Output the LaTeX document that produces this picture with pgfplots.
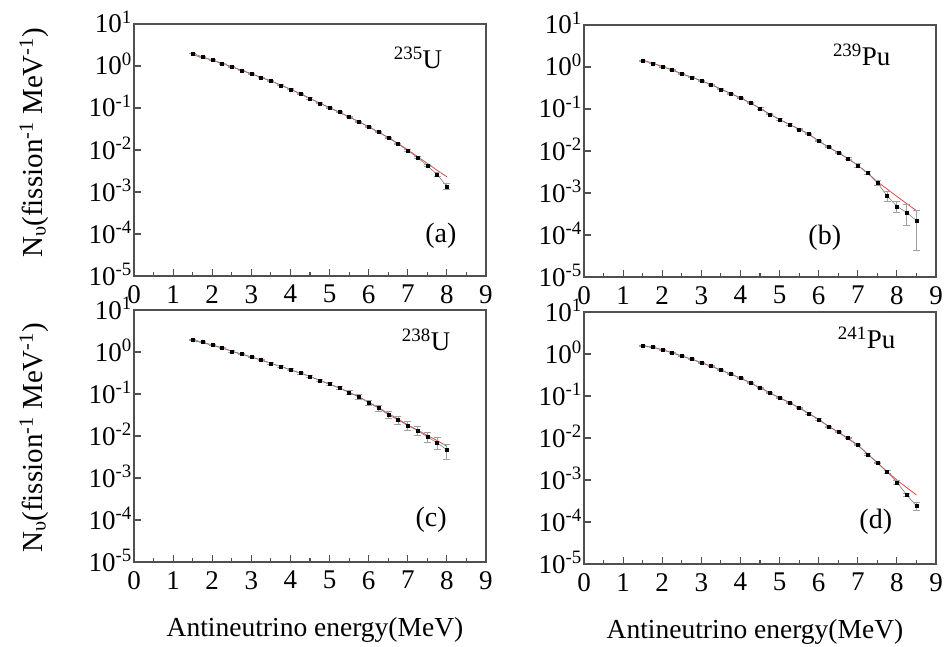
\documentclass[border=0pt]{standalone}
\usepackage{fontspec}
\setmainfont{Liberation Serif}
\usepackage{pgfplots}
\usepackage{pgfplotstable}
\pgfplotsset{compat=1.18}

\pgfplotstableread{
x y ey
1.5 2.0 0.05
1.75 1.66 0.04
2.0 1.39 0.035
2.25 1.15 0.03
2.5 0.96 0.025
2.75 0.785 0.02
3.0 0.655 0.017
3.25 0.535 0.014
3.5 0.44 0.011
3.75 0.35 0.009
4.0 0.28 0.007
4.25 0.218 0.006
4.5 0.169 0.005
4.75 0.13 0.004
5.0 0.103 0.003
5.25 0.080 0.0025
5.5 0.0617 0.002
5.75 0.0477 0.0015
6.0 0.0356 0.0012
6.25 0.027 0.0009
6.5 0.0198 0.0007
6.75 0.014 0.0005
7.0 0.0097 0.0004
7.25 0.0066 0.0003
7.5 0.00426 0.00025
7.75 0.0026 0.00025
8.0 0.00137 0.0002
}\dataA
\pgfplotstableread{
x y
1.5 1.85
1.75 1.6
2.0 1.37
2.25 1.15
2.5 0.96
2.75 0.79
3.0 0.655
3.25 0.535
3.5 0.44
3.75 0.352
4.0 0.28
4.25 0.218
4.5 0.169
4.75 0.13
5.0 0.102
5.25 0.079
5.5 0.061
5.75 0.047
6.0 0.0355
6.25 0.0268
6.5 0.0198
6.75 0.0143
7.0 0.0101
7.25 0.0070
7.5 0.0048
7.75 0.0033
8.0 0.0023
}\fitA

\pgfplotstableread{
x y ey
1.5 1.39 0.04
1.75 1.23 0.035
2.0 1.02 0.03
2.25 0.85 0.025
2.5 0.684 0.02
2.75 0.57 0.017
3.0 0.467 0.014
3.25 0.382 0.011
3.5 0.296 0.009
3.75 0.233 0.007
4.0 0.184 0.006
4.25 0.14 0.0045
4.5 0.103 0.0035
4.75 0.0752 0.0025
5.0 0.0562 0.002
5.25 0.0427 0.0015
5.5 0.0331 0.0012
5.75 0.0252 0.001
6.0 0.0172 0.0007
6.25 0.0124 0.0005
6.5 0.00906 0.0004
6.75 0.00664 0.0004
7.0 0.00453 0.0004
7.25 0.00303 0.0003
7.5 0.00175 0.00025
7.75 0.00086 0.00022
8.0 0.00048 0.00014
8.25 0.000346 0.00018
8.5 0.000219 0.000175
}\dataB
\pgfplotstableread{
x y
1.5 1.45
1.75 1.24
2.0 1.03
2.25 0.855
2.5 0.69
2.75 0.575
3.0 0.47
3.25 0.383
3.5 0.298
3.75 0.234
4.0 0.184
4.25 0.14
4.5 0.103
4.75 0.0755
5.0 0.0565
5.25 0.043
5.5 0.0332
5.75 0.0251
6.0 0.0173
6.25 0.0125
6.5 0.0091
6.75 0.0066
7.0 0.00455
7.25 0.00298
7.5 0.00186
7.75 0.00124
8.0 0.00083
8.25 0.00056
8.5 0.00038
}\fitB

\pgfplotstableread{
x y ey
1.5 1.97 0.07
1.75 1.73 0.06
2.0 1.47 0.05
2.25 1.27 0.045
2.5 1.04 0.04
2.75 0.896 0.035
3.0 0.76 0.03
3.25 0.644 0.027
3.5 0.536 0.024
3.75 0.455 0.022
4.0 0.378 0.02
4.25 0.315 0.018
4.5 0.262 0.016
4.75 0.21 0.015
5.0 0.172 0.014
5.25 0.14 0.014
5.5 0.109 0.013
5.75 0.0857 0.012
6.0 0.0616 0.009
6.25 0.0468 0.008
6.5 0.0318 0.006
6.75 0.0242 0.005
7.0 0.0177 0.004
7.25 0.0135 0.0033
7.5 0.0095 0.0026
7.75 0.00695 0.0022
8.0 0.00465 0.0018
}\dataC
\pgfplotstableread{
x y
1.5 1.88
1.75 1.68
2.0 1.45
2.25 1.25
2.5 1.04
2.75 0.89
3.0 0.76
3.25 0.644
3.5 0.536
3.75 0.455
4.0 0.378
4.25 0.315
4.5 0.262
4.75 0.212
5.0 0.172
5.25 0.139
5.5 0.11
5.75 0.0855
6.0 0.064
6.25 0.0475
6.5 0.0345
6.75 0.0253
7.0 0.0184
7.25 0.0138
7.5 0.0103
7.75 0.0078
8.0 0.0057
}\fitC

\pgfplotstableread{
x y ey
1.5 1.58 0.04
1.75 1.47 0.035
2.0 1.27 0.03
2.25 1.08 0.025
2.5 0.896 0.02
2.75 0.76 0.017
3.0 0.621 0.014
3.25 0.517 0.012
3.5 0.415 0.01
3.75 0.333 0.008
4.0 0.268 0.006
4.25 0.207 0.005
4.5 0.157 0.004
4.75 0.12 0.003
5.0 0.091 0.0025
5.25 0.0703 0.002
5.5 0.0525 0.0015
5.75 0.0385 0.0012
6.0 0.0277 0.0009
6.25 0.0188 0.0006
6.5 0.0141 0.0005
6.75 0.00993 0.0004
7.0 0.00689 0.0003
7.25 0.00412 0.0002
7.5 0.00256 0.00013
7.75 0.00156 0.0001
8.0 0.000887 0.00008
8.25 0.000443 0.00004
8.5 0.000242 0.00005
}\dataD
\pgfplotstableread{
x y
1.5 1.55
1.75 1.45
2.0 1.26
2.25 1.07
2.5 0.89
2.75 0.755
3.0 0.62
3.25 0.515
3.5 0.413
3.75 0.332
4.0 0.267
4.25 0.206
4.5 0.156
4.75 0.119
5.0 0.0905
5.25 0.07
5.5 0.0522
5.75 0.0383
6.0 0.0275
6.25 0.0192
6.5 0.0138
6.75 0.0096
7.0 0.0067
7.25 0.0042
7.5 0.0026
7.75 0.00158
8.0 0.00100
8.25 0.00066
8.5 0.00044
}\fitD

\definecolor{axgray}{RGB}{80,80,80}
\definecolor{fitred}{RGB}{230,70,70}
\definecolor{errgray}{RGB}{160,160,160}

\pgfplotsset{
  scale only axis, width=352pt, height=252pt,
  xmin=0, xmax=9, ymin=1e-5, ymax=10,
  xtick={0,1,2,3,4,5,6,7,8,9}, minor x tick num=1,
  ytick={1e-5,1e-4,1e-3,1e-2,1e-1,1,10},
  yticklabels={10\textsuperscript{-5},10\textsuperscript{-4},10\textsuperscript{-3},10\textsuperscript{-2},10\textsuperscript{-1},10\textsuperscript{0},10\textsuperscript{1}},
  xticklabels={0,1,2,3,4,5,6,7,8,9},
  yminorticks=false,
  tick align=inside, xtick pos=left, ytick pos=left,
  axis line style={draw=axgray, line width=1.5pt},
  major tick length=7pt, minor tick length=4pt,
  every tick/.style={axgray, line width=1.2pt},
  tick label style={font=\fontsize{27}{30}\selectfont},
  xticklabel style={anchor=north, inner sep=0pt, yshift=-9pt},
  yticklabel style={anchor=base east, inner sep=0pt, xshift=-2pt, yshift=-9pt},
  clip=false,
}

\newcommand{\dataplot}[1]{%
  \addplot[draw=gray, line width=0.6pt, mark=square*, mark size=1.5pt,
    mark options={black, solid, line width=0.3pt},
    error bars/.cd, y dir=both, y explicit,
    error bar style={errgray, line width=0.8pt},
    error mark options={rotate=90, errgray, mark size=3.5pt, line width=0.8pt}]
    table[x=x, y=y, y error=ey] {#1};}
\newcommand{\fitplot}[1]{%
  \addplot[fitred, line width=0.8pt, no marks] table[x=x, y=y] {#1};}

\begin{document}
\begin{tikzpicture}
\path[use as bounding box] (0,0) rectangle (944pt,646pt);

% (a)
\begin{semilogyaxis}[at={(134pt,370pt)}, anchor=south west]
\fitplot{\fitA}
\dataplot{\dataA}
\node[anchor=base, font=\fontsize{27}{30}\selectfont] at (rel axis cs:0.807,0.825) {\textsuperscript{235}U};
\node[anchor=base, font=\fontsize{28}{30}\selectfont] at (rel axis cs:0.872,0.131) {(a)};
\end{semilogyaxis}

% (b)
\begin{semilogyaxis}[at={(584pt,369pt)}, anchor=south west]
\fitplot{\fitB}
\dataplot{\dataB}
\node[anchor=base, font=\fontsize{27}{30}\selectfont] at (rel axis cs:0.789,0.841) {\textsuperscript{239}Pu};
\node[anchor=base, font=\fontsize{28}{30}\selectfont] at (rel axis cs:0.684,0.127) {(b)};
\end{semilogyaxis}

% (c)
\begin{semilogyaxis}[at={(134pt,84pt)}, anchor=south west]
\fitplot{\fitC}
\dataplot{\dataC}
\node[anchor=base, font=\fontsize{27}{30}\selectfont] at (rel axis cs:0.83,0.841) {\textsuperscript{238}U};
\node[anchor=base, font=\fontsize{28}{30}\selectfont] at (rel axis cs:0.844,0.139) {(c)};
\end{semilogyaxis}

% (d)
\begin{semilogyaxis}[at={(584pt,82pt)}, anchor=south west]
\fitplot{\fitD}
\dataplot{\dataD}
\node[anchor=base, font=\fontsize{27}{30}\selectfont] at (rel axis cs:0.803,0.857) {\textsuperscript{241}Pu};
\node[anchor=base, font=\fontsize{28}{30}\selectfont] at (rel axis cs:0.829,0.139) {(d)};
\end{semilogyaxis}

% y labels
\node[rotate=90, anchor=base, font=\fontsize{29}{32}\selectfont] at (42pt,503pt) {N\textsubscript{υ}(fission\textsuperscript{-1} MeV\textsuperscript{-1})};
\node[rotate=90, anchor=base, font=\fontsize{29}{32}\selectfont] at (42pt,208pt) {N\textsubscript{υ}(fission\textsuperscript{-1} MeV\textsuperscript{-1})};

% x labels
\node[anchor=base, font=\fontsize{27.5}{30}\selectfont] at (315pt,10pt) {Antineutrino energy(MeV)};
\node[anchor=base, font=\fontsize{27.5}{30}\selectfont] at (755pt,8pt) {Antineutrino energy(MeV)};
\end{tikzpicture}
\end{document}
